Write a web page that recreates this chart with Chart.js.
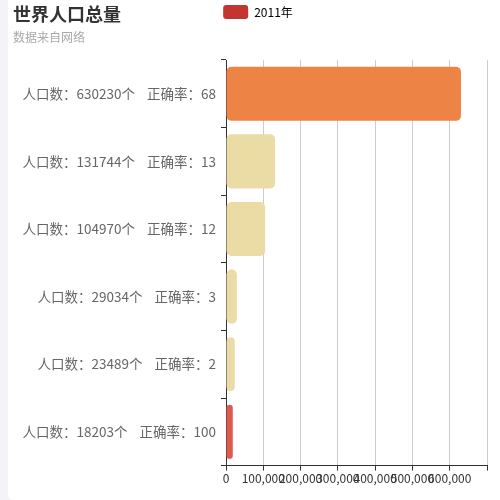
<!DOCTYPE html>
<html>
<head>
<meta charset="utf-8">
<script src="https://cdn.jsdelivr.net/npm/chart.js@4.4.1/dist/chart.umd.min.js"></script>
<style>
  html, body { margin: 0; padding: 0; background: #f3f3f8; }
  #card {
    position: absolute; left: 8px; top: 0; width: 492px; height: 500px;
    background: #fff; border-radius: 0 0 0 5px; overflow: hidden;
  }
  #title {
    position: absolute; left: 5px; top: 0px; margin: 0;
    font: bold 18px "Noto Sans CJK SC", sans-serif; color: #333;
  }
  #subtitle {
    position: absolute; left: 5px; top: 28px; margin: 0;
    font: 12px "Noto Sans CJK SC", sans-serif; color: #aaa;
  }
  canvas { position: absolute; left: 0; top: 0; }
</style>
</head>
<body>
<div id="card">
  <canvas id="populationChart" width="492" height="500"></canvas>
  <div id="title">世界人口总量</div>
  <div id="subtitle">数据来自网络</div>
</div>
<script>
const seriesName = "2011年";
const population = [630230, 131744, 104970, 29034, 23489, 18203];
const accuracy = [68, 13, 12, 3, 2, 100];
const barColors = ["#ee8346", "#ebdca6", "#ebdca6", "#ebdca6", "#ebdca6", "#dd5a50"];
const xTicks = [0, 100000, 200000, 300000, 400000, 500000, 600000, 700000];

const categories = population.map((p, i) => `人口数：${p}个    正确率：${accuracy[i]}`);
const fontFamily = '"Noto Sans CJK SC", sans-serif';

// legend stays at the very top, but reserves room down to the plot top
const legendSpacer = {
  id: "legendSpacer",
  afterInit(chart) {
    const legend = chart.legend;
    if (!legend) return;
    const fit = legend.fit;
    legend.fit = function () {
      fit.call(this);
      this.height = 60;
    };
  },
  afterLayout(chart) {
    if (!chart.legend) return;
    chart.legend.left += 4;
    chart.legend.right += 4;
  },
};

new Chart(document.getElementById("populationChart"), {
  type: "bar",
  data: {
    labels: categories,
    datasets: [
      {
        label: seriesName,
        data: population,
        backgroundColor: barColors,
        borderRadius: 5,
        borderSkipped: false,
        barPercentage: 0.8,
        categoryPercentage: 1,
      },
    ],
  },
  options: {
    indexAxis: "y",
    responsive: false,
    animation: false,
    layout: { padding: { top: 0, right: 0, bottom: 13, left: 0 } },
    plugins: {
      tooltip: { enabled: false },
      legend: {
        position: "top",
        labels: {
          boxWidth: 25,
          boxHeight: 14,
          useBorderRadius: true,
          borderRadius: 3,
          padding: 5,
          color: "#333",
          font: { family: fontFamily, size: 12 },
          generateLabels: () => [
            { text: seriesName, fillStyle: "#c23531", strokeStyle: "#c23531", lineWidth: 0, borderRadius: 3 },
          ],
        },
      },
    },
    scales: {
      x: {
        min: xTicks[0],
        max: xTicks[xTicks.length - 1],
        afterBuildTicks: (scale) => { scale.ticks = xTicks.map((v) => ({ value: v })); },
        afterFit: (scale) => { scale.paddingRight = 13; },
        ticks: {
          autoSkip: false,
          maxRotation: 0,
          minRotation: 0,
          color: "#333",
          padding: 1,
          font: { family: fontFamily, size: 12 },
          callback: (v) => (v === xTicks[xTicks.length - 1] ? "" : Number(v).toLocaleString("en-US")),
        },
        grid: { color: "#ccc", tickColor: "#333", tickLength: 5 },
        border: { color: "#333", width: 1 },
      },
      y: {
        afterFit: (scale) => { scale.width = 218; },
        ticks: {
          color: "#666",
          padding: 5,
          font: { family: fontFamily, size: 13.5 },
        },
        grid: { drawOnChartArea: false, offset: true, tickColor: "#333", tickLength: 5 },
        border: { color: "#333", width: 1 },
      },
    },
  },
  plugins: [legendSpacer],
});
</script>
</body>
</html>
